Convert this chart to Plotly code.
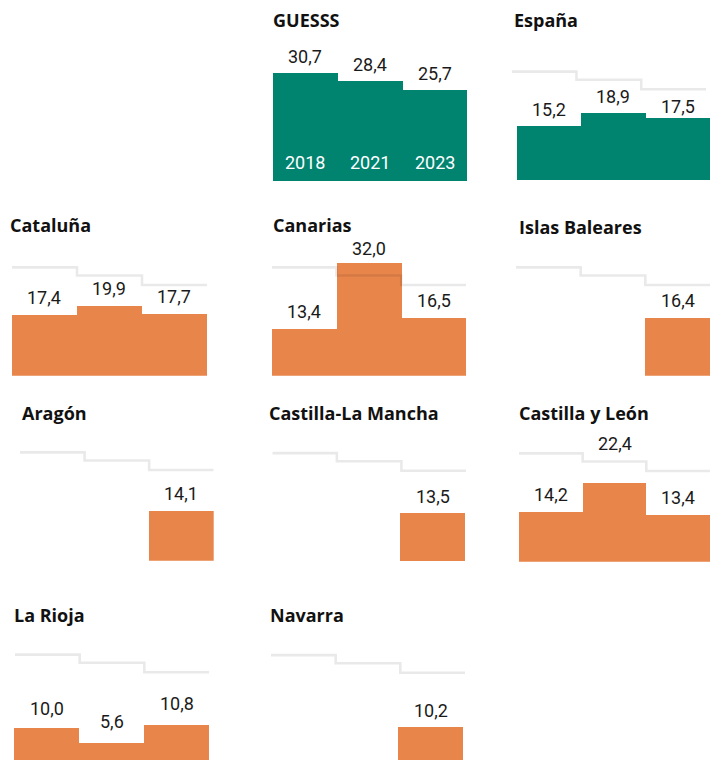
import plotly.graph_objects as go

# ---------------- data ----------------
years = ["2018", "2021", "2023"]
guesss = [30.7, 28.4, 25.7]
espana = [15.2, 18.9, 17.5]
cataluna = [17.4, 19.9, 17.7]
canarias = [13.4, 32.0, 16.5]
islas_baleares = [None, None, 16.4]
aragon = [None, None, 14.1]
castilla_la_mancha = [None, None, 13.5]
castilla_y_leon = [14.2, 22.4, 13.4]
la_rioja = [10.0, 5.6, 10.8]
navarra = [None, None, 10.2]

panel_names = ["GUESSS", "España", "Cataluña", "Canarias", "Islas Baleares",
               "Aragón", "Castilla-La Mancha", "Castilla y León", "La Rioja", "Navarra"]
panel_values = [guesss, espana, cataluna, canarias, islas_baleares,
                aragon, castilla_la_mancha, castilla_y_leon, la_rioja, navarra]

# ---------------- layout / style (pixels) ----------------
W, H = 710, 760
PX_PER_UNIT = 3.53
Y_TOP = 36.0
GREEN = "#00836F"
ORANGE = "#E8854A"
STEP_LINE = "rgba(0,0,0,0.085)"
TITLE_FONT = dict(family="Open Sans", size=18, color="#111111")
NUM_FONT = dict(family="Roboto", size=18, color="#1a1a1a")

# bars_x0, bars_x1, baseline, line_x0, line_x1, title_x, title_y
panel_box = [
    (272.7, 467.0, 181.5, None, None, 271.0, 20.0),
    (516.7, 710.0, 180.0, 511.7, 706.0, 511.7, 20.0),
    (11.7, 207.0, 375.7, 12.0, 207.0, 8.0, 224.5),
    (271.7, 466.0, 375.7, 271.7, 466.0, 271.0, 224.5),
    (515.0, 710.0, 375.7, 516.0, 710.0, 516.7, 227.0),
    (20.0, 213.7, 560.7, 20.0, 213.7, 20.0, 413.0),
    (270.0, 465.0, 561.5, 272.3, 466.0, 266.7, 413.0),
    (519.0, 710.0, 561.7, 519.0, 710.0, 516.7, 413.0),
    (14.0, 209.0, 763.0, 15.0, 209.0, 11.7, 614.5),
    (267.0, 463.3, 763.5, 271.0, 465.0, 267.7, 614.5),
]
LABEL_OFFSET = 17
label_offset_override = {("Castilla y León", 1): 39, ("España", 2): 12,
                         ("Canarias", 1): 14, ("La Rioja", 1): 22,
                         ("La Rioja", 2): 21, ("La Rioja", 0): 19}

fig = go.Figure()
layout = dict(width=W, height=H, margin=dict(l=0, r=0, t=0, b=0),
              paper_bgcolor="white", plot_bgcolor="rgba(0,0,0,0)",
              showlegend=False, bargap=0)
annotations = []
idx = list(range(len(years)))

def hidden_axis(**kw):
    d = dict(visible=False, showgrid=False, zeroline=False, fixedrange=True)
    d.update(kw)
    return d

for p, (name, vals) in enumerate(zip(panel_names, panel_values)):
    bx0, bx1, base, lx0, lx1, tx, ty = panel_box[p]
    bottom_px = min(base, H)
    ymin = (base - bottom_px) / PX_PER_UNIT
    top_px = base - Y_TOP * PX_PER_UNIT
    ydom = [1 - bottom_px / H, 1 - top_px / H]
    yn = p + 1
    xb = 2 * p + 1
    xl = 2 * p + 2
    ysuf = "" if yn == 1 else str(yn)
    xbsuf = "" if xb == 1 else str(xb)
    xlsuf = str(xl)

    layout["yaxis" + ysuf] = hidden_axis(domain=ydom, range=[ymin, Y_TOP], anchor="x" + xbsuf)
    layout["xaxis" + xbsuf] = hidden_axis(domain=[bx0 / W, min(bx1 / W, 1)],
                                          range=[-0.5, len(years) - 0.5], anchor="y" + ysuf)
    color = GREEN if p < 2 else ORANGE

    fig.add_trace(go.Bar(x=idx, y=vals, width=1, marker=dict(color=color, line=dict(width=0)),
                         xaxis="x" + xbsuf, yaxis="y" + ysuf, hoverinfo="skip"))

    if lx0 is not None:
        layout["xaxis" + xlsuf] = hidden_axis(domain=[lx0 / W, min(lx1 / W, 1)],
                                              range=[-0.5, len(years) - 0.5], anchor="y" + ysuf)
        sx = [i - 0.5 for i in idx] + [idx[-1] + 0.5]
        sy = list(guesss) + [guesss[-1]]
        fig.add_trace(go.Scatter(x=sx, y=sy, mode="lines", line=dict(color=STEP_LINE, width=2.6, shape="hv"),
                                 xaxis="x" + xlsuf, yaxis="y" + ysuf, hoverinfo="skip"))

    for i, v in enumerate(vals):
        if v is None:
            continue
        off = label_offset_override.get((name, i), LABEL_OFFSET)
        annotations.append(dict(x=i, y=v, xref="x" + xbsuf, yref="y" + ysuf,
                                text=f"{v:.1f}".replace(".", ","), showarrow=False,
                                yanchor="middle", xanchor="center", yshift=off, font=NUM_FONT))

    if p == 0:
        for i, yr in enumerate(years):
            annotations.append(dict(x=i, y=ymin, xref="x" + xbsuf, yref="y" + ysuf, text=yr,
                                    showarrow=False, yanchor="middle", xanchor="center", yshift=19.5,
                                    font=dict(family="Roboto", size=18, color="white")))

    annotations.append(dict(x=tx / W, y=1 - ty / H, xref="paper", yref="paper",
                            text=f"<b>{name}</b>", showarrow=False, xanchor="left", yanchor="middle",
                            font=TITLE_FONT))

layout["annotations"] = annotations
fig.update_layout(**layout)
fig.write_html("out.html", config={"displayModeBar": False},
               post_script="document.body.style.margin='0';document.body.style.overflow='hidden';")
